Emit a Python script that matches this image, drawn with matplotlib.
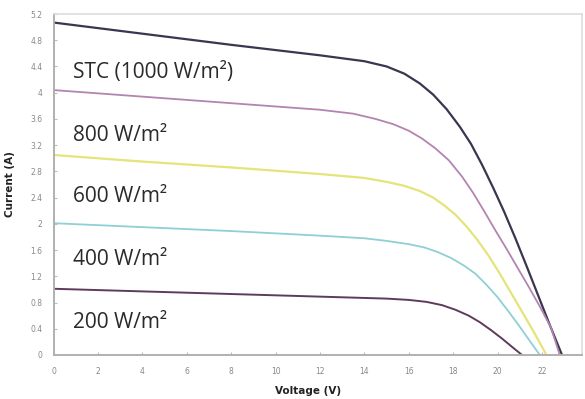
import matplotlib.pyplot as plt

# I-V curves (voltage in V, current in A)
v_stc = [0, 4, 8, 12, 14, 15, 15.8, 16.5, 17.1, 17.7, 18.3, 18.8, 19.3, 19.8, 20.3, 20.8, 21.3, 21.8, 22.3, 22.9]
i_stc = [5.07, 4.90, 4.73, 4.57, 4.48, 4.40, 4.29, 4.14, 3.97, 3.75, 3.48, 3.22, 2.90, 2.55, 2.18, 1.78, 1.36, 0.93, 0.50, 0.0]

v_800 = [0, 4, 8, 12, 13.5, 14.5, 15.3, 16.0, 16.6, 17.2, 17.8, 18.4, 18.9, 19.4, 19.9, 20.4, 20.9, 21.4, 21.9, 22.4, 22.8]
i_800 = [4.04, 3.94, 3.84, 3.74, 3.68, 3.60, 3.52, 3.42, 3.30, 3.15, 2.97, 2.72, 2.47, 2.19, 1.90, 1.62, 1.33, 1.04, 0.74, 0.42, 0.0]

v_600 = [0, 4, 8, 12, 14, 15, 15.8, 16.5, 17.1, 17.6, 18.1, 18.6, 19.1, 19.6, 20.1, 20.6, 21.1, 21.6, 22.2]
i_600 = [3.05, 2.95, 2.86, 2.76, 2.70, 2.64, 2.58, 2.50, 2.40, 2.28, 2.14, 1.96, 1.75, 1.51, 1.24, 0.95, 0.66, 0.37, 0.0]

v_400 = [0, 4, 8, 12, 14, 15, 16, 16.7, 17.3, 17.9, 18.5, 19.0, 19.5, 20.0, 20.5, 21.0, 21.5, 21.9]
i_400 = [2.01, 1.95, 1.89, 1.82, 1.78, 1.74, 1.69, 1.64, 1.57, 1.48, 1.36, 1.24, 1.07, 0.88, 0.66, 0.43, 0.19, 0.0]

v_200 = [0, 4, 8, 12, 15, 16, 16.8, 17.5, 18.1, 18.7, 19.2, 19.7, 20.2, 20.7, 21.1]
i_200 = [1.01, 0.97, 0.93, 0.89, 0.86, 0.84, 0.81, 0.76, 0.69, 0.60, 0.50, 0.38, 0.25, 0.11, 0.0]

labels = ['STC (1000 W/m²)', '800 W/m²', '600 W/m²', '400 W/m²', '200 W/m²']
label_y = [4.31, 3.35, 2.42, 1.46, 0.50]

x_ticks = [0, 2, 4, 6, 8, 10, 12, 14, 16, 18, 20, 22]
y_ticks = [0, 0.4, 0.8, 1.2, 1.6, 2, 2.4, 2.8, 3.2, 3.6, 4, 4.4, 4.8, 5.2]

curves = [
  (v_stc, i_stc, '#3b3650', 1.6),
  (v_800, i_800, '#b384b0', 1.3),
  (v_600, i_600, '#e4e47a', 1.6),
  (v_400, i_400, '#8fcfd6', 1.3),
  (v_200, i_200, '#5e3b5c', 1.4),
]

fig = plt.figure(figsize=(5.85, 3.99), dpi=100)
ax = fig.add_axes([53.5 / 585, 1 - 355 / 399, (582 - 53.5) / 585, (355 - 14) / 399])

for v, i, color, lw in curves:
  ax.plot(v, i, color=color, linewidth=lw, solid_joinstyle='round', solid_capstyle='round')

for text, y in zip(labels, label_y):
  ax.text(0.88, y, text, fontsize=15, family=['Open Sans', 'DejaVu Sans'],
          color='#2a2a2a', va='center', ha='left')

ax.set_xlim(0, 23.8)
ax.set_ylim(0, 5.2)
ax.set_xticks(x_ticks)
ax.set_yticks(y_ticks)
ax.set_xticklabels([str(t) for t in x_ticks])
ax.set_yticklabels([('%g' % t) for t in y_ticks])
ax.tick_params(direction='in', length=2.5, width=0.8, color='#bbbbbb',
               labelsize=5.5, labelcolor='#888888')
ax.tick_params(axis='x', pad=9)
ax.tick_params(axis='y', pad=8)

for side in ['left', 'bottom']:
  ax.spines[side].set_color('#b0b0b0')
  ax.spines[side].set_linewidth(1.4)
for side in ['top', 'right']:
  ax.spines[side].set_color('#dddddd')
  ax.spines[side].set_linewidth(1.2)

ax.set_xlabel('Voltage (V)', fontsize=7.5, fontweight='bold', color='#222222')
ax.xaxis.set_label_coords((308 - 53.5) / (582 - 53.5), -0.09)
ax.set_ylabel('Current (A)', fontsize=7.5, fontweight='bold', color='#222222')
ax.yaxis.set_label_coords(-(53.5 - 15) / (582 - 53.5), 0.5)

fig.savefig('out.png', dpi=100)
